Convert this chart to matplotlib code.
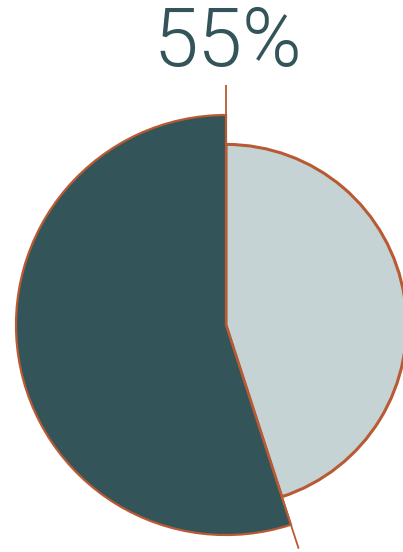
import numpy as np
import matplotlib.pyplot as plt

# 数据
labels = ['其他', '主要']
values = [45, 55]
radii = [0.86, 1.0]
colors = ['#c5d3d5', '#33555a']
title_text = '55%'

edge = '#b85a33'

fig = plt.figure(figsize=(4.03, 5.52), dpi=100)
ax = fig.add_axes([0, 0, 1, 1])
ax.axis('off')

# 两块扇形，半径不同
wedges, _ = ax.pie(values, colors=colors, startangle=90, counterclock=False,
                   radius=1.0, center=(0, 0),
                   wedgeprops=dict(edgecolor=edge, linewidth=1.6))
for w, r in zip(wedges, radii):
    w.set_radius(r)
wedges[0].set_linewidth(2.2)

# 分割线（超出饼图）
ang = 90 - values[0] / sum(values) * 360
ax.plot([0, 0], [0, 1.143], color=edge, lw=1.3, solid_capstyle='butt')
ax.plot([0, 1.12 * np.cos(np.radians(ang))], [0, 1.12 * np.sin(np.radians(ang))],
        color=edge, lw=1.3, solid_capstyle='butt')

ax.text(0.01, 1.34, title_text, ha='center', va='center', fontsize=58,
        color='#33555a', family=['Roboto', 'DejaVu Sans'], fontweight=300)

px = 210.0
ax.set_xlim(-226 / px, (403 - 226) / px)
ax.set_ylim(-(552 - 325) / px, 325 / px)
ax.set_aspect('auto')

fig.savefig('out.png', dpi=100)
